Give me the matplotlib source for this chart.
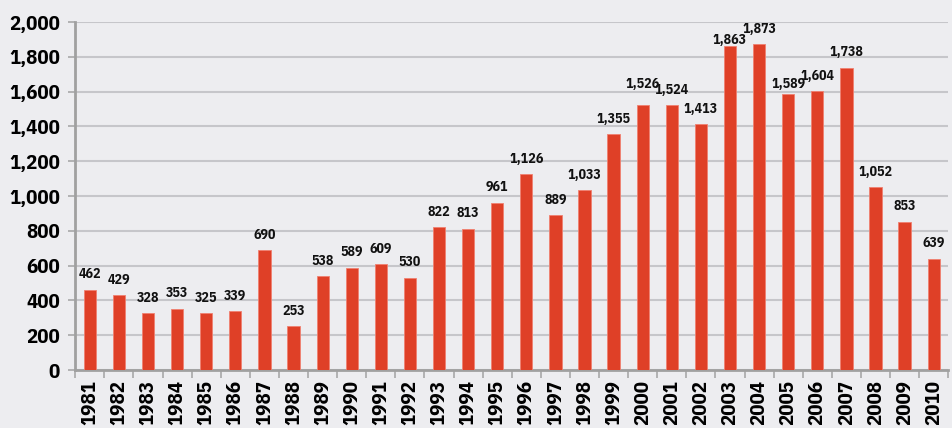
import numpy as np
import matplotlib.pyplot as plt
from matplotlib.ticker import FuncFormatter

years = list(range(1981, 2011))
values = [462, 429, 328, 353, 325, 339, 690, 253, 538, 589,
          609, 530, 822, 813, 961, 1126, 889, 1033, 1355, 1526,
          1524, 1413, 1863, 1873, 1589, 1604, 1738, 1052, 853, 639]

# small manual nudges (points) so crowded labels don't collide, as in the original
nudge = {2000: 3.5, 2003: -7, 2005: -4.5}

plt.rcParams['font.family'] = ['IBM Plex Sans Condensed', 'DejaVu Sans']
plt.rcParams['font.weight'] = 'bold'

bg = '#EDEDF0'
fig = plt.figure(figsize=(9.53, 4.28), dpi=100, facecolor=bg)
ax = fig.add_axes([0.079, 0.1355, 0.916, 0.813], facecolor=bg)

x = np.arange(len(years))
ax.bar(x, values, width=0.42, color='#DF4027', edgecolor='#F08070', linewidth=0.6, zorder=3)

for xi, yr, v in zip(x, years, values):
    ax.annotate(f'{v:,}', (xi, v), xytext=(0, 6 + nudge.get(yr, 0)), textcoords='offset points',
                ha='center', va='bottom', fontsize=10, fontweight='bold', color='#111111')

ax.set_xlim(-0.5, len(years) - 0.5)
ax.set_ylim(0, 2000)
ax.set_yticks(range(0, 2001, 200))
ax.yaxis.set_major_formatter(FuncFormatter(lambda v, p: f'{int(v):,}'))
ax.grid(axis='y', color='#C6C6CA', linewidth=1.5, zorder=0)

ax.set_xticks(x)
ax.set_xticklabels([str(y) for y in years], rotation=90, fontsize=15, fontweight='bold')
ax.set_xticks(np.arange(-0.5, len(years), 1), minor=True)
ax.tick_params(axis='x', which='major', length=0, pad=7)
ax.tick_params(axis='x', which='minor', length=6, color='#A8A8A8', width=1.2)
ax.tick_params(axis='y', length=5, color='#A8A8A8', width=1.2, labelsize=15, pad=6)
for lab in ax.get_yticklabels():
    lab.set_fontweight('bold')

for s in ['top', 'right']:
    ax.spines[s].set_visible(False)
for s in ['left', 'bottom']:
    ax.spines[s].set_color('#A0A0A0')
    ax.spines[s].set_linewidth(2)

fig.savefig('out.png', dpi=100, facecolor=bg)
